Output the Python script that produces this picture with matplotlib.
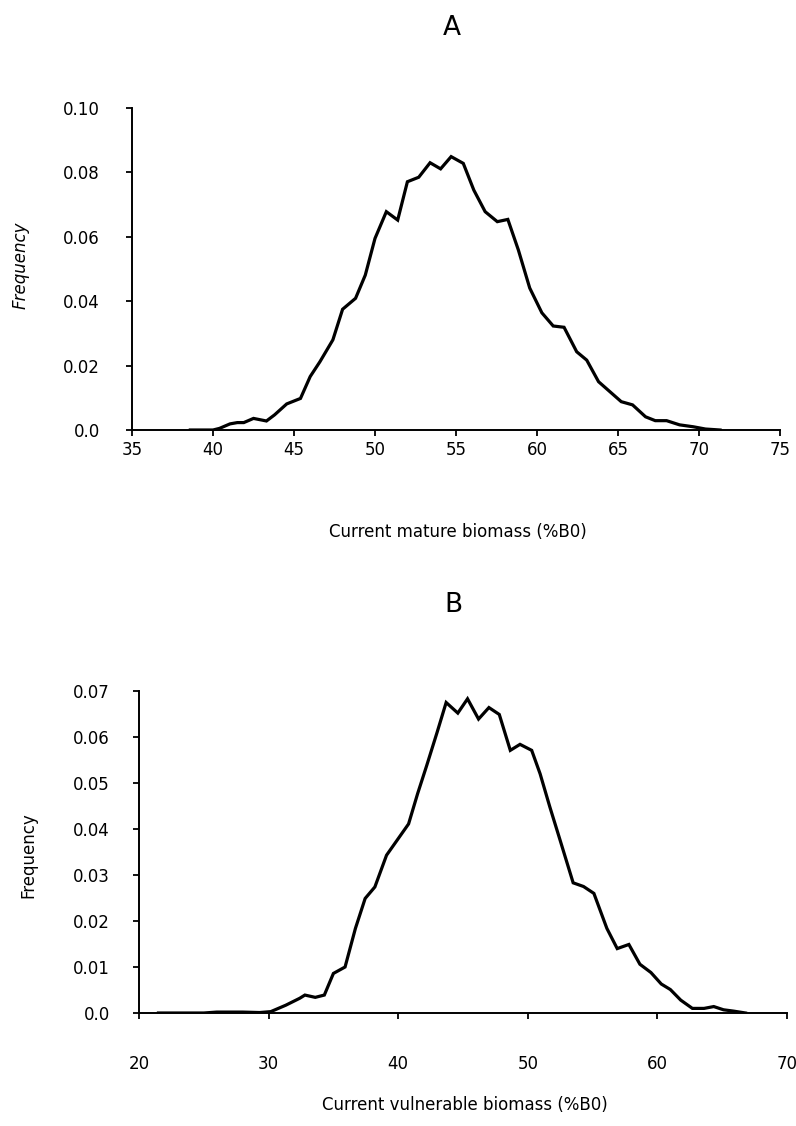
import matplotlib
matplotlib.use("Agg")
import matplotlib.pyplot as plt

plt.rcParams['font.family'] = ['DejaVu Sans']

# Panel A: current mature biomass (%B0)
mature_x = [38.6, 39.3, 40.0, 40.4, 41.05, 41.5, 41.9, 42.5, 43.3, 43.8, 44.55,
            45.4, 46.0, 46.6, 47.4, 48.0, 48.8, 49.4, 50.0, 50.7, 51.4, 52.0,
            52.7, 53.4, 54.05, 54.7, 55.45, 56.1, 56.8, 57.55, 58.2, 58.85,
            59.55, 60.3, 61.0, 61.67, 62.45, 63.07, 63.8, 64.5, 65.2, 65.9,
            66.7, 67.3, 68.0, 68.8, 69.65, 70.4, 71.3]
mature_freq = [0.0, 0.0, 0.0, 0.0005, 0.0019, 0.0023, 0.0023, 0.0036, 0.0028,
               0.0047, 0.0081, 0.0098, 0.0166, 0.0212, 0.0280, 0.0375, 0.0409,
               0.0481, 0.0595, 0.0678, 0.0652, 0.0771, 0.0785, 0.0830, 0.0811,
               0.0849, 0.0828, 0.0745, 0.0678, 0.0647, 0.0654, 0.0559, 0.0441,
               0.0364, 0.0323, 0.0319, 0.0243, 0.0217, 0.0150, 0.0119, 0.0088,
               0.0078, 0.0041, 0.0029, 0.0029, 0.0016, 0.0010, 0.0003, 0.0]

# Panel B: current vulnerable biomass (%B0)
vuln_x = [21.5, 25.0, 26.0, 28.0, 29.3, 30.17, 31.33, 32.4, 32.8, 33.6, 34.3,
          35.0, 35.9, 36.7, 37.45, 38.2, 39.1, 39.9, 40.8, 41.5, 42.2, 43.0,
          43.7, 44.6, 45.35, 46.2, 47.0, 47.8, 48.65, 49.4, 50.3, 50.95, 51.7,
          52.5, 53.5, 54.3, 55.1, 56.1, 56.9, 57.8, 58.65, 59.5, 60.3, 61.0,
          61.8, 62.7, 63.6, 64.35, 65.1, 65.9, 66.8]
vuln_freq = [0.0, 0.0, 0.0002, 0.0002, 0.0001, 0.0003, 0.0017, 0.0032, 0.0039,
             0.0034, 0.0039, 0.0086, 0.0100, 0.0184, 0.0249, 0.0274, 0.0343,
             0.0375, 0.0411, 0.0477, 0.0538, 0.0610, 0.0675, 0.0652, 0.0683,
             0.0639, 0.0664, 0.0649, 0.0571, 0.0584, 0.0571, 0.0520, 0.0448,
             0.0375, 0.0283, 0.0275, 0.0260, 0.0184, 0.0140, 0.0149, 0.0106,
             0.0088, 0.0063, 0.0051, 0.0028, 0.0010, 0.0010, 0.0014, 0.0007,
             0.0004, 0.0]

mature_xticks = [35, 40, 45, 50, 55, 60, 65, 70, 75]
mature_yticks = [0.0, 0.02, 0.04, 0.06, 0.08, 0.10]
mature_ylabels = ["0.0", "0.02", "0.04", "0.06", "0.08", "0.10"]
vuln_xticks = [20, 30, 40, 50, 60, 70]
vuln_yticks = [0.0, 0.01, 0.02, 0.03, 0.04, 0.05, 0.06, 0.07]
vuln_ylabels = ["0.0", "0.01", "0.02", "0.03", "0.04", "0.05", "0.06", "0.07"]

W, H = 796, 1126
fig = plt.figure(figsize=(W / 100, H / 100), dpi=100)


def frac_axes(left, top, right, bottom):
    return fig.add_axes([left / W, 1 - bottom / H, (right - left) / W, (bottom - top) / H])


def style(ax, ypad, xpad):
    for s in ("top", "right"):
        ax.spines[s].set_visible(False)
    for s in ("left", "bottom"):
        ax.spines[s].set_linewidth(1.4)
    ax.tick_params(axis="both", direction="out", length=4, width=1.3,
                   labelsize=12, colors="black")
    ax.tick_params(axis="y", pad=ypad)
    ax.tick_params(axis="x", pad=xpad)


# ---- Panel A ----
axA = frac_axes(132, 108, 780, 430)
axA.plot(mature_x, mature_freq, color="black", lw=2.3, solid_joinstyle="miter")
axA.set_xlim(35, 75)
axA.set_ylim(0, 0.10)
axA.set_xticks(mature_xticks)
axA.set_yticks(mature_yticks)
axA.set_yticklabels(mature_ylabels)
style(axA, ypad=19, xpad=4)
axA.set_xlabel("Current mature biomass (%B0)", fontsize=12)
axA.xaxis.set_label_coords(0.503, -0.317)
axA.xaxis.label.set_va("center")
axA.set_ylabel("Frequency", fontsize=12, style="italic")
axA.yaxis.set_label_coords(-0.172, 0.512)
axA.yaxis.label.set_va("center")
fig.text(452 / W, 1 - 28 / H, "A", fontsize=19, ha="center", va="center")

# ---- Panel B ----
axB = frac_axes(139, 691, 787, 1013)
axB.plot(vuln_x, vuln_freq, color="black", lw=2.3, solid_joinstyle="miter")
axB.set_xlim(20, 70)
axB.set_ylim(0, 0.07)
axB.set_xticks(vuln_xticks)
axB.set_yticks(vuln_yticks)
axB.set_yticklabels(vuln_ylabels)
style(axB, ypad=17, xpad=26)
axB.set_xlabel("Current vulnerable biomass (%B0)", fontsize=12)
axB.xaxis.set_label_coords(0.503, -0.286)
axB.xaxis.label.set_va("center")
axB.set_ylabel("Frequency", fontsize=12)
axB.yaxis.set_label_coords(-0.170, 0.49)
axB.yaxis.label.set_va("center")
fig.text(453 / W, 1 - 605 / H, "B", fontsize=19, ha="center", va="center")

fig.savefig("out.png", dpi=100)
